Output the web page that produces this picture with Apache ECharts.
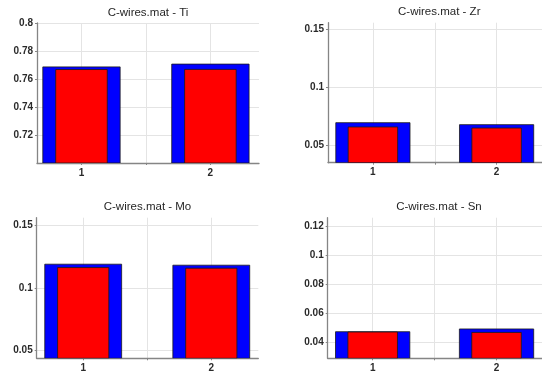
<!DOCTYPE html>
<html>
<head>
<meta charset="utf-8">
<script src="https://cdn.jsdelivr.net/npm/echarts@6/dist/echarts.min.js"></script>
<style>
  html, body { margin: 0; padding: 0; background: #ffffff; }
  #chart { width: 542px; height: 374px; }
</style>
</head>
<body>
<div id="chart"></div>
<script>
// Source file and the element shown in each panel
const sourceFile = 'C-wires.mat';
const elements = ['Ti', 'Zr', 'Mo', 'Sn'];

// Bar positions on the x axis
const positions = [1, 2];
const xTicks = [1, 1.5, 2];
const xTickLabels = [1, 2];

// Wide (blue) and narrow (red) bar values per element
const blueTi = [0.7690, 0.7710];
const redTi  = [0.7671, 0.7672];
const blueZr = [0.0695, 0.0678];
const redZr  = [0.0658, 0.0649];
const blueMo = [0.1192, 0.1184];
const redMo  = [0.1165, 0.1160];
const blueSn = [0.0473, 0.0492];
const redSn  = [0.0471, 0.0468];

// Y tick labels per element
const yTicksTi = [0.72, 0.74, 0.76, 0.78, 0.8];
const yTicksZr = [0.05, 0.1, 0.15];
const yTicksMo = [0.05, 0.1, 0.15];
const yTicksSn = [0.04, 0.06, 0.08, 0.1, 0.12];

// Panel layout: grid box (px) and axis limits
const panels = [
  { name: elements[0], blue: blueTi, red: redTi, ticks: yTicksTi,
    box: { left: 37, top: 23, width: 222, height: 140 }, y: [0.7, 0.8005], x: [0.655, 2.377] },
  { name: elements[1], blue: blueZr, red: redZr, ticks: yTicksZr,
    box: { left: 328, top: 22.7, width: 222.5, height: 140 }, y: [0.035, 0.1557], x: [0.637, 2.367] },
  { name: elements[2], blue: blueMo, red: redMo, ticks: yTicksMo,
    box: { left: 36.7, top: 217.7, width: 221.6, height: 140.6 }, y: [0.0439, 0.1564], x: [0.637, 2.367] },
  { name: elements[3], blue: blueSn, red: redSn, ticks: yTicksSn,
    box: { left: 327.7, top: 217.7, width: 222.5, height: 140.6 }, y: [0.0289, 0.1262], x: [0.637, 2.367] }
];

const FONT = '"Liberation Sans", Arial, Helvetica, sans-serif';
const WIDE = 0.6, NARROW = 0.4;

function barRenderer(width, base, color) {
  return function (params, api) {
    const x = api.value(0), y = api.value(1);
    const tl = api.coord([x - width / 2, y]);
    const br = api.coord([x + width / 2, base]);
    return {
      type: 'rect',
      shape: { x: tl[0], y: tl[1], width: br[0] - tl[0], height: br[1] - tl[1] },
      style: { fill: color, stroke: '#1a1a1a', lineWidth: 0.8 }
    };
  };
}

const grid = [], xAxis = [], yAxis = [], series = [], title = [];
const gridLine = { show: true, lineStyle: { color: '#e4e4e4', width: 1 } };
const axisLine = { show: true, onZero: false, lineStyle: { color: '#858585', width: 1.3 } };
const tickText = { fontFamily: FONT, fontSize: 10, fontWeight: 'bold', color: '#2a2a2a' };

panels.forEach((p, i) => {
  grid.push(Object.assign({ containLabel: false }, p.box));
  title.push({
    text: sourceFile + ' - ' + p.name,
    left: p.box.left + p.box.width / 2,
    top: p.box.top - 16.5,
    padding: 0,
    textAlign: 'center',
    textStyle: { fontFamily: FONT, fontSize: 11.5, fontWeight: 'normal', color: '#262626' }
  });
  xAxis.push({
    type: 'value', gridIndex: i, min: p.x[0], max: p.x[1],
    axisLine: axisLine,
    axisTick: { show: true, inside: false, length: 2, customValues: xTicks, lineStyle: { color: '#858585' } },
    axisLabel: Object.assign({ customValues: xTickLabels, margin: 5 }, tickText),
    splitLine: gridLine
  });
  yAxis.push({
    type: 'value', gridIndex: i, min: p.y[0], max: p.y[1],
    axisLine: axisLine,
    axisTick: { show: true, inside: false, length: 2, customValues: p.ticks, lineStyle: { color: '#858585' } },
    axisLabel: Object.assign({ customValues: p.ticks, margin: 4 }, tickText),
    splitLine: gridLine
  });
  series.push({
    type: 'custom', xAxisIndex: i, yAxisIndex: i, clip: true,
    renderItem: barRenderer(WIDE, p.y[0], '#0000ff'),
    encode: { x: 0, y: 1 },
    data: positions.map((x, k) => [x, p.blue[k]])
  });
  series.push({
    type: 'custom', xAxisIndex: i, yAxisIndex: i, clip: true,
    renderItem: barRenderer(NARROW, p.y[0], '#ff0000'),
    encode: { x: 0, y: 1 },
    data: positions.map((x, k) => [x, p.red[k]])
  });
});

const chart = echarts.init(document.getElementById('chart'), null, { renderer: 'canvas' });
chart.setOption({
  animation: false,
  backgroundColor: '#ffffff',
  title: title,
  grid: grid,
  xAxis: xAxis,
  yAxis: yAxis,
  series: series
});
</script>
</body>
</html>
